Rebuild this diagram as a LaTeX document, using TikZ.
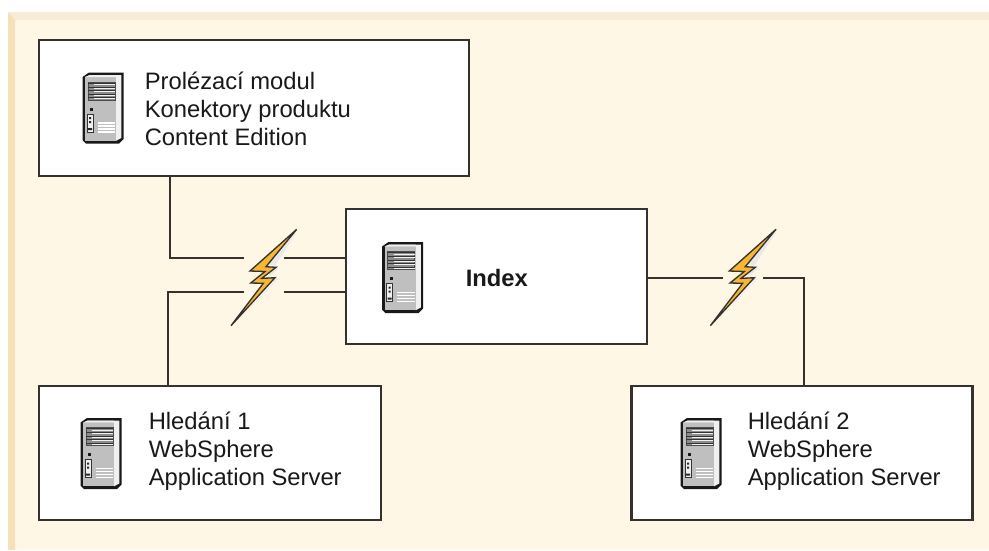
\documentclass[tikz,border=0pt]{standalone}
\usepackage{fontspec}
\setmainfont{Liberation Sans}
\definecolor{panel}{HTML}{FEF7E6}
\definecolor{bevT}{HTML}{F6ECD8}
\definecolor{bevL}{HTML}{F6E0B8}
\definecolor{ink}{HTML}{35312E}
\definecolor{bolt}{HTML}{F7B733}
\definecolor{boltsh}{HTML}{E8E9EC}
\tikzset{
  box/.style={draw=ink,line width=1.6pt,fill=white,inner sep=0pt},
  wire/.style={draw=ink,line width=1.4pt},
  lbl/.style={anchor=west,align=left,font=\fontsize{17.9}{21}\selectfont,text=black!90,inner sep=0pt},
  srv/.pic={
    \fill[black!90] (-20.5,-31) -- (-14,-35.5) -- (20.5,-35.5) -- (20.5,31) -- (16,35.5) -- (-17,35.5) -- (-20.5,32) -- cycle;
    \fill[black!6] (-17.5,-31) -- (-13,-33) -- (18.3,-33) -- (18.3,30) -- (13,32.8) -- (13,-31) -- cycle;
    \fill[black!25] (-18,-31) rectangle (13,32.8);
    \fill[black!6] (-18,-31) -- (-13,-33) -- (13,-33) -- (13,-31) -- cycle;
    \draw[black!70,line width=.4pt,fill=black!45] (-15,-26) rectangle (12,-8);
    \foreach \yy in {-23,-19.5,-16,-12.5,-9} {\fill[black!5] (-9,\yy-1) rectangle (12,\yy);}
    \foreach \yy in {-25,-21,-17.5,-14,-10.5} {\draw[black!80,line width=.6pt] (-15,\yy) -- (12,\yy);}
    \fill[black!90] (-13,-.5) rectangle (-10,2.5);
    \draw[black!80,line width=.6pt,fill=black!6] (-16,6) rectangle (-10,24);
    \fill[black!85] (-14,9) rectangle (-12,11) (-14,13) rectangle (-12,15) (-15,20) rectangle (-11,22);
    \foreach \yy in {15,18,21,24} {\draw[white,line width=.8pt] (-5.5,\yy) -- (12,\yy);}
  },
  zap/.pic={
    \fill[boltsh] (38.5,-41.5) -- (8,-6) -- (18,-5) -- (17,-1) -- (8,7) -- (18,7) -- (-26,54) -- (16,10) -- (5,10) -- cycle;
    \draw[ink,line width=1pt,fill=bolt,line join=miter,miter limit=10] (36.7,-41.7) -- (-10,0) -- (5,.5) -- (-9.3,12) -- (3.3,12.3) -- (-29,54.7) -- (15,6.7) -- (1.7,7.4) -- (16,-3.7) -- (6,-4.3) -- cycle;
  }
}
\begin{document}
\begin{tikzpicture}[x=1pt,y=-1pt,scale=0.75292]
\useasboundingbox (0,0) rectangle (989,550);
\fill[white] (0,0) rectangle (989,550);
\fill[panel] (8,12) rectangle (989,550);
\fill[bevT] (8,12) -- (989,12) -- (989,20) -- (15,20) -- cycle;
\fill[bevL] (8,12) -- (15,20) -- (15,550) -- (8,550) -- cycle;
% boxes
\node[box,minimum width=323.8pt,minimum height=102.4pt] (crawl) at (254,108) {};
\node[box,minimum width=226.6pt,minimum height=101pt] (index) at (496.5,276.5) {};
\node[box,minimum width=257.5pt,minimum height=100.9pt] (search1) at (210,453) {};
\node[box,minimum width=256.7pt,minimum height=100.9pt] (search2) at (802,453) {};
% junction and gap coordinates
\coordinate (c1) at (170,258);
\coordinate (g1) at (244,258);
\coordinate (g2) at (284,258);
\coordinate (c2) at (168,292);
\coordinate (g3) at (244,292);
\coordinate (g4) at (284,292);
\coordinate (g5) at (723,278);
\coordinate (g6) at (763,278);
\coordinate (c3) at (804,278);
% connectors
\draw[wire] (c1 |- crawl.south) -- (c1) -- (g1);
\draw[wire] (g2) -- (g2 -| index.west);
\draw[wire] (c2 |- search1.north) -- (c2) -- (g3);
\draw[wire] (g4) -- (g4 -| index.west);
\draw[wire] ([xshift=-1.5pt]g5 -| index.east) -- (g5);
\draw[wire] (g6) -- (c3) -- (c3 |- search2.north);
% lightning
\pic[transform shape] at (260,271) {zap};
\pic[transform shape] at (739.3,271) {zap};
% servers
\pic[transform shape] at (103,108) {srv};
\pic[transform shape] at (402.5,277.5) {srv};
\pic[transform shape] at (101,453.5) {srv};
\pic[transform shape] at (701,453.5) {srv};
% labels
\node[lbl] (t1) at (144.5,109) {Prolézací modul\\Konektory produktu\\Content Edition};
\node[lbl,font=\fontsize{17.9}{21}\selectfont\bfseries] (t2) at (465.5,278) {Index};
\node[lbl] (t3) at (148.5,451) {Hledání 1\\WebSphere\\Application Server};
\node[lbl] (t4) at (747.5,451) {Hledání 2\\WebSphere\\Application Server};
\end{tikzpicture}
\end{document}
